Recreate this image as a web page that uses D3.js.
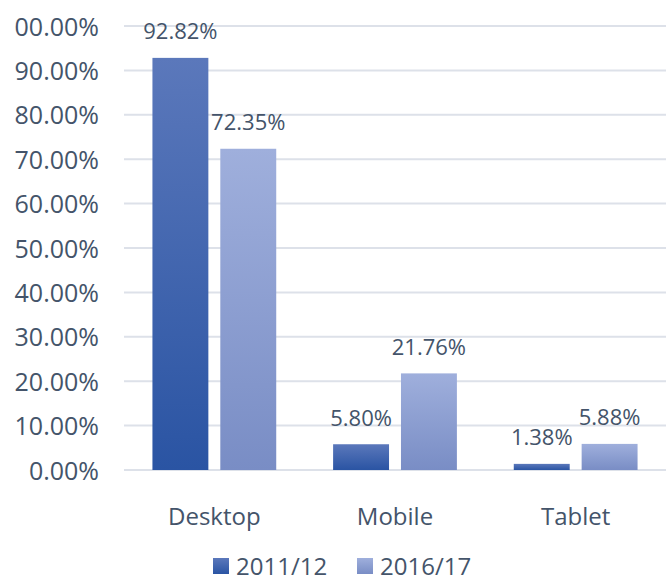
<!DOCTYPE html>
<html>
<head>
<meta charset="utf-8">
<script src="https://cdn.jsdelivr.net/npm/d3@7"></script>
<style>
  body { margin: 0; background: #fff; }
  svg text { font-family: "Open Sans", "Noto Sans", sans-serif; fill: #44546a; }
</style>
</head>
<body>
<svg id="chart" width="670" height="576"></svg>
<script>
'use strict';

// data
const categories = ['Desktop', 'Mobile', 'Tablet'];
const seriesNames = ['2011/12', '2016/17'];
const values2011 = [0.9282, 0.058, 0.0138];
const values2016 = [0.7235, 0.2176, 0.0588];
const yTicks = [0, 0.1, 0.2, 0.3, 0.4, 0.5, 0.6, 0.7, 0.8, 0.9, 1.0];

const seriesValues = [values2011, values2016];
const gradStops = [
    ['#5b78bb', '#2a54a3'],
    ['#9fafdc', '#798dc5']
];

const margin = {top: 26, right: 4, bottom: 106, left: 124},
      width = 670,
      height = 576;

const svg = d3.select('#chart');
const defs = svg.append('defs');

gradStops.forEach((c, i) => {
    const g = defs.append('linearGradient')
        .attr('id', 'grad' + i)
        .attr('x1', 0).attr('y1', 0).attr('x2', 0).attr('y2', 1);
    g.append('stop').attr('offset', '0%').attr('stop-color', c[0]);
    g.append('stop').attr('offset', '100%').attr('stop-color', c[1]);
});

// the leading "1" of 100.00% sits outside the visible chart area
defs.append('clipPath').attr('id', 'yclip')
    .append('rect').attr('x', 13).attr('y', 0).attr('width', 110).attr('height', height);

const x0 = d3.scaleBand()
    .domain(categories)
    .range([margin.left, width - margin.right])
    .padding(0);

const x1 = d3.scaleBand()
    .domain(seriesNames)
    .range([0, x0.bandwidth()])
    .paddingInner(0.176)
    .paddingOuter(0.419);

const y = d3.scaleLinear()
    .domain([0, 1])
    .range([height - margin.bottom, margin.top]);

const fmt = d3.format('.2%');

// gridlines
svg.append('g')
    .selectAll('line')
    .data(yTicks)
    .enter().append('line')
    .attr('x1', margin.left)
    .attr('x2', width - margin.right)
    .attr('y1', d => y(d))
    .attr('y2', d => y(d))
    .attr('stroke', '#dde1e9')
    .attr('stroke-width', 2);

// y axis labels
const yAxis = svg.append('g')
    .attr('clip-path', 'url(#yclip)')
    .append('g')
    .attr('transform', 'translate(99,0)')
    .call(d3.axisLeft(y).tickValues(yTicks).tickFormat(fmt).tickSize(0).tickPadding(0));
yAxis.select('.domain').remove();
yAxis.selectAll('text')
    .attr('font-size', 25)
    .attr('dy', '0.36em')
    .attr('fill', '#44546a')
    .style('font-family', '"Open Sans", sans-serif');

// bars
const groups = svg.append('g')
    .selectAll('g')
    .data(categories)
    .enter().append('g')
    .attr('transform', d => 'translate(' + x0(d) + ',0)');

groups.selectAll('rect')
    .data((d, i) => seriesNames.map((s, j) => ({series: s, idx: j, value: seriesValues[j][i]})))
    .enter().append('rect')
    .attr('x', d => x1(d.series))
    .attr('y', d => y(d.value))
    .attr('width', x1.bandwidth())
    .attr('height', d => y(0) - y(d.value))
    .attr('fill', d => 'url(#grad' + d.idx + ')');

groups.selectAll('text.label')
    .data((d, i) => seriesNames.map((s, j) => ({series: s, idx: j, value: seriesValues[j][i]})))
    .enter().append('text')
    .attr('class', 'label')
    .attr('x', d => x1(d.series) + x1.bandwidth() / 2)
    .attr('y', d => y(d.value) - 18.6)
    .attr('text-anchor', 'middle')
    .attr('font-size', 22)
    .text(d => fmt(d.value));

// category axis
const xAxis = svg.append('g')
    .attr('transform', 'translate(0,' + (y(0)) + ')')
    .call(d3.axisBottom(x0).tickSize(0).tickPadding(0));
xAxis.select('.domain').remove();
xAxis.selectAll('text')
    .attr('y', 54.6)
    .attr('dy', 0)
    .attr('font-size', 24)
    .attr('fill', '#44546a')
    .style('font-family', '"Open Sans", sans-serif');

// legend
const legendX = [213, 357];
const legend = svg.append('g')
    .selectAll('g')
    .data(seriesNames)
    .enter().append('g')
    .attr('transform', (d, i) => 'translate(' + legendX[i] + ',558)');

legend.append('rect')
    .attr('width', 16)
    .attr('height', 16)
    .attr('fill', (d, i) => 'url(#grad' + i + ')');

legend.append('text')
    .attr('x', 23)
    .attr('y', 16.5)
    .attr('font-size', 24)
    .text(d => d);
</script>
</body>
</html>
